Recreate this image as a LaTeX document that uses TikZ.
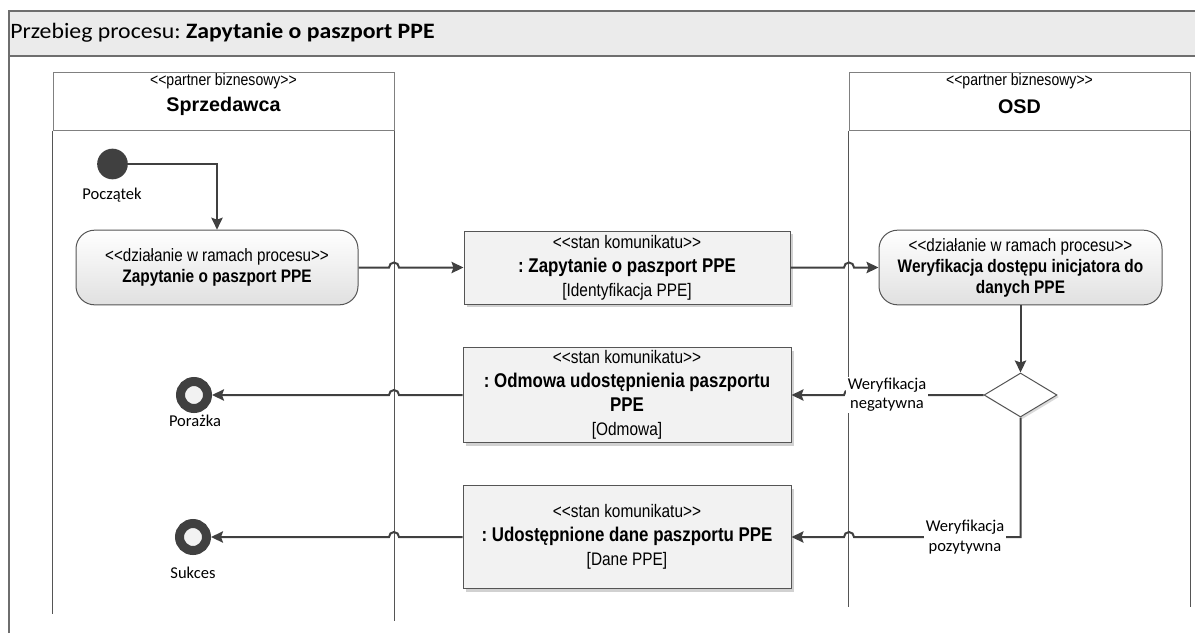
\documentclass[tikz,border=0pt]{standalone}
\usepackage{fontspec}
\setmainfont{Carlito}
\newfontfamily\narrowf[FakeStretch=0.85,Ligatures=TeXOff]{Liberation Sans}
\newfontfamily\sansf[Ligatures=TeXOff]{Liberation Sans}
\newfontfamily\headf[FakeStretch=1.08]{Carlito}
\usetikzlibrary{arrows.meta,shapes.geometric,shadows}
\frenchspacing
\definecolor{ln}{HTML}{404040}
\definecolor{frm}{HTML}{6E6E6E}
\definecolor{hdr}{HTML}{EBEBEB}
\definecolor{boxf}{HTML}{F2F2F2}
\definecolor{bord}{HTML}{555555}
\definecolor{lanec}{HTML}{808080}
\newcommand\msgst{\narrowf\fontsize{13.6pt}{18pt}\selectfont}
\newcommand\msgbd{\narrowf\bfseries\fontsize{14.9pt}{18pt}\selectfont}
\newcommand\actst{\narrowf\fontsize{13.4pt}{15.75pt}\selectfont}
\newcommand\actbd{\narrowf\bfseries\fontsize{13.6pt}{15.75pt}\selectfont}
\begin{document}
\begin{tikzpicture}[x=0.75pt,y=-0.75pt,
  conn/.style={draw=ln,line width=1.5pt,-{Stealth[length=9pt,width=8.5pt,inset=1.5pt]}},
  laneline/.style={draw=bord,line width=0.75pt},
  lanehead/.style={draw=lanec,line width=0.75pt,fill=white,inner sep=0pt},
  msgbox/.style={draw=bord,line width=0.75pt,fill=boxf,align=center,inner sep=0pt,
     font=\msgst,minimum width=246pt,
     drop shadow={shadow xshift=2.25pt,shadow yshift=-2.25pt,fill=black!18,opacity=1}},
  actbox/.style={draw=bord,line width=0.75pt,rounded corners=14pt,top color=white,bottom color=black!12,
     align=center,inner sep=0pt,font=\actst,minimum width=212pt,minimum height=56pt},
  lbl/.style={font=\fontsize{12.4pt}{14.5pt}\selectfont,align=center,inner sep=1pt},
  endnode/.style={circle,draw=ln,line width=6.75pt,fill=boxf,minimum size=20.25pt,inner sep=0pt}
]
\useasboundingbox (0,0) rectangle (1195,633);
% frame and header
\fill[hdr] (9,11) rectangle (1196,56);
\draw[frm,line width=0.9pt] (9,633) -- (9,11) -- (1196,11);
\draw[frm,line width=0.9pt] (9,56) -- (1196,56);
\node[anchor=west,inner sep=0pt,font=\headf\fontsize{16.5pt}{18pt}\selectfont] (title) at (10,33)
  {Przebieg procesu: \textbf{Zapytanie o paszport PPE}};
% lanes
\node[lanehead,minimum width=255.75pt,minimum height=43.5pt] (lS) at (223.5,101) {};
\node[lanehead,minimum width=255.75pt,minimum height=43.5pt] (lO) at (1019.5,101) {};
\draw[laneline] (lS.south west) -- ++(0,483);
\draw[laneline] (lS.south east) -- ++(0,490);
\draw[laneline] (lO.south west) -- ++(0,476);
\draw[laneline] (lO.south east) -- ++(0,476);
\node[inner sep=0pt,font=\narrowf\fontsize{12.4pt}{14pt}\selectfont] (lSst) at (223.5,81) {<<partner biznesowy>>};
\node[inner sep=0pt,font=\sansf\bfseries\fontsize{14.8pt}{16pt}\selectfont] (lSnm) at (223.5,106) {Sprzedawca};
\node[inner sep=0pt,font=\narrowf\fontsize{12.4pt}{14pt}\selectfont] (lOst) at (1019.5,81) {<<partner biznesowy>>};
\node[inner sep=0pt,font=\sansf\bfseries\fontsize{14.8pt}{16pt}\selectfont] (lOnm) at (1019.5,107) {OSD};
\coordinate (xS) at (394,0);
\coordinate (xO) at (849,0);
% start
\node[circle,fill=ln,minimum size=23pt,inner sep=0pt] (start) at (112.5,164) {};
\node[lbl] (startl) at (112,195) {Początek};
% activities
\node[actbox,minimum width=211.5pt] (a1) at (217,267.5)
  {<<działanie w ramach procesu>>\\{\actbd Zapytanie o paszport PPE}};
\node[actbox,minimum width=212.25pt] (a2) at (1020.5,267.5)
  {<<działanie w ramach procesu>>\\{\actbd Weryfikacja dostępu inicjatora do}\\{\actbd danych PPE}};
% messages
\node[msgbox,minimum width=244.5pt,minimum height=54.75pt] (b1) at (627,267.5)
  {<<stan komunikatu>>\\{\msgbd : Zapytanie o paszport PPE}\\{}[Identyfikacja PPE]};
\node[msgbox,minimum height=71.25pt] (b2) at (627,395)
  {<<stan komunikatu>>\\{\msgbd : Odmowa udostępnienia paszportu}\\{\msgbd PPE}\\{}[Odmowa]};
\node[msgbox,minimum height=77.25pt] (b3) at (627,537)
  {<<stan komunikatu>>\\{\msgbd : Udostępnione dane paszportu PPE}\\{}[Dane PPE]};
% decision
\node[diamond,draw=bord,line width=0.75pt,fill=white,minimum width=54.75pt,minimum height=33pt,inner sep=0pt,
  drop shadow={shadow xshift=1.5pt,shadow yshift=-1.5pt,fill=black!15,opacity=1}] (d) at (1020.5,395) {};
% end nodes
\node[endnode] (fail) at (194,395) {};
\node[endnode] (succ) at (193,537) {};
\node[lbl] (faill) at (195,421) {Porażka};
\node[lbl] (succl) at (193,573) {Sukces};
% connectors
\draw[conn] (start.east) -| (a1.north);
\draw[conn] (a1.east) -- ([xshift=-3.75pt]a1.east -| xS) arc[start angle=180,end angle=0,radius=3.75pt] -- (b1.west);
\draw[conn] (b1.east) -- ([xshift=-3.75pt]b1.east -| xO) arc[start angle=180,end angle=0,radius=3.75pt] -- (a2.west);
\draw[conn] (a2.south) -- (d.north);
\draw[conn] (d.west) -- ([xshift=3.75pt]d.west -| xO) arc[start angle=0,end angle=180,radius=3.75pt] -- (b2.east);
\node[lbl,fill=white] (negl) at (887,395) {Weryfikacja\\negatywna};
\draw[conn] (d.south) -- (d.south |- b3.east) -- ([xshift=3.75pt]b3.east -| xO) arc[start angle=0,end angle=180,radius=3.75pt] -- (b3.east);
\node[lbl,fill=white,font=\fontsize{12.4pt}{15pt}\selectfont] (posl) at (965,537) {Weryfikacja\\pozytywna};
\draw[conn] (b2.west) -- ([xshift=3.75pt]b2.west -| xS) arc[start angle=0,end angle=180,radius=3.75pt] -- (fail);
\draw[conn] (b3.west) -- ([xshift=3.75pt]b3.west -| xS) arc[start angle=0,end angle=180,radius=3.75pt] -- (succ);
\end{tikzpicture}
\end{document}
